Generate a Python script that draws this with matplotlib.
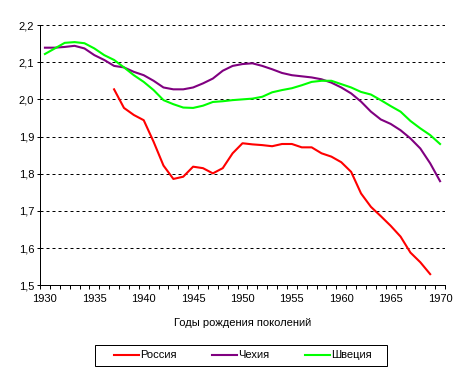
import matplotlib
matplotlib.use("Agg")
import matplotlib.pyplot as plt
from matplotlib.patches import Rectangle

years = list(range(1930, 1971))
tick_labels = ["1930", "1935", "1940", "1945", "1950", "1955", "1960", "1965", "1970"]
y_ticks = [1.5, 1.6, 1.7, 1.8, 1.9, 2.0, 2.1, 2.2]

russia_years = list(range(1937, 1970))
russia = [2.027, 1.977, 1.958, 1.944, 1.886, 1.822, 1.786, 1.792, 1.819, 1.815,
          1.801, 1.815, 1.855, 1.882, 1.879, 1.877, 1.874, 1.880, 1.880, 1.871,
          1.871, 1.855, 1.846, 1.831, 1.805, 1.747, 1.711, 1.686, 1.660, 1.631,
          1.588, 1.562, 1.530]
czech = [2.139, 2.139, 2.141, 2.144, 2.137, 2.119, 2.106, 2.090, 2.086, 2.074,
         2.065, 2.050, 2.032, 2.027, 2.027, 2.032, 2.043, 2.056, 2.077, 2.090,
         2.095, 2.097, 2.090, 2.081, 2.071, 2.065, 2.062, 2.059, 2.054, 2.045,
         2.032, 2.016, 1.994, 1.967, 1.946, 1.934, 1.917, 1.895, 1.868, 1.828,
         1.780]
sweden = [2.122, 2.137, 2.152, 2.154, 2.151, 2.137, 2.119, 2.106, 2.086, 2.065,
          2.047, 2.025, 1.998, 1.987, 1.978, 1.977, 1.983, 1.993, 1.995, 1.998,
          2.000, 2.002, 2.007, 2.019, 2.025, 2.030, 2.038, 2.047, 2.050, 2.050,
          2.041, 2.032, 2.020, 2.013, 1.998, 1.982, 1.967, 1.942, 1.922, 1.904,
          1.880]

names = ["Россия", "Чехия", "Швеция"]
colors = ["#FF0000", "#800080", "#00FF00"]

plt.rcParams['font.family'] = ['Liberation Sans', 'DejaVu Sans']
plt.rcParams['font.size'] = 8

fig = plt.figure(figsize=(4.6, 3.75), dpi=100)
ax = fig.add_axes([40 / 460, 1 - 285.3 / 375, 405 / 460, 260.3 / 375])

base = years[0]
x_all = [y - base for y in years]
x_ru = [y - base for y in russia_years]

l1, = ax.plot(x_ru, russia, color=colors[0], lw=1.5, zorder=3,
              solid_joinstyle='round')
l2, = ax.plot(x_all, czech, color=colors[1], lw=1.5, zorder=3,
              solid_joinstyle='round')
l3, = ax.plot(x_all, sweden, color=colors[2], lw=1.5, zorder=3,
              solid_joinstyle='round')

ax.set_xlim(-0.5, len(years) - 0.5)
ax.set_ylim(1.5, 2.2)

ax.set_xticks([int(t) - base for t in tick_labels])
ax.set_xticklabels(tick_labels)
ax.set_xticks([i - 0.5 for i in range(len(years) + 1)], minor=True)
ax.tick_params(axis='x', which='major', length=0, pad=6.5, labelsize=8)
ax.tick_params(axis='x', which='minor', length=3, width=0.72, direction='out',
               color='black')

ax.set_yticks(y_ticks)
ax.set_yticklabels([f"{v:.1f}".replace('.', ',') for v in y_ticks])
ax.tick_params(axis='y', length=2.2, width=0.72, pad=2, labelsize=8)

for v in y_ticks[1:]:
    ax.axhline(v, color='black', lw=0.72, linestyle=(0, (3, 3)), zorder=1)

for s in ['top', 'right']:
    ax.spines[s].set_visible(False)
for s in ['left', 'bottom']:
    ax.spines[s].set_linewidth(0.72)
    ax.spines[s].set_color('black')
    ax.spines[s].set_zorder(4)

fig.text(242.5 / 460, 1 - 322.7 / 375, "Годы рождения поколений",
         ha='center', va='center', fontsize=8)

# legend frame
fig.patches.append(Rectangle((95 / 460, 1 - 366 / 375), 291.7 / 460, 21 / 375,
                             transform=fig.transFigure, fill=False,
                             edgecolor='black', lw=0.72))
fig.legend([l1, l2, l3], names, loc='center', mode='expand', ncol=3,
           bbox_to_anchor=(114 / 460, 1 - 362 / 375, 257.7 / 460, 13 / 375),
           frameon=False, borderpad=0, borderaxespad=0,
           handlelength=2.25, handletextpad=0.1, fontsize=8)

fig.savefig("out.png", dpi=100)
